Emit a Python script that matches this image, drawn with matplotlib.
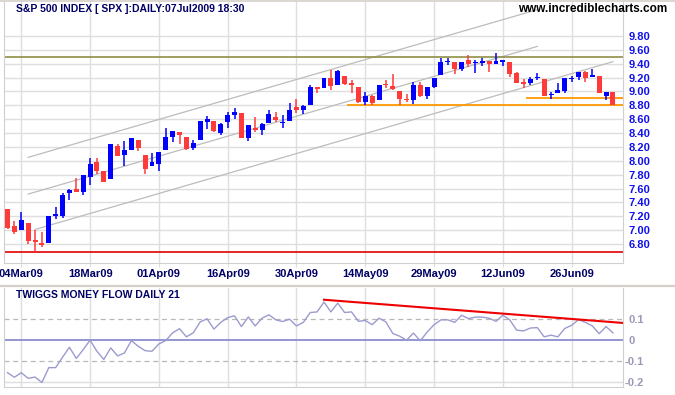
import matplotlib
matplotlib.use('Agg')
import matplotlib.pyplot as plt
import pandas as pd

plt.rcParams['font.family'] = ['Liberation Sans', 'DejaVu Sans']

HOLIDAYS = ['2009-04-10', '2009-05-25', '2009-07-03']

# S&P 500 / 100, daily candles 02Mar09 .. 07Jul09
OPEN = [7.30, 7.06, 7.00, 7.10, 6.85, 6.82, 6.81, 7.20, 7.21, 7.54,
        7.60, 7.55, 7.77, 7.99, 7.85, 7.74, 8.21, 8.08, 8.16, 8.30,
        8.09, 7.93, 7.95, 8.16, 8.35, 8.41, 8.35, 8.18, 8.30, 8.56,
        8.57, 8.40, 8.56, 8.66, 8.69, 8.33, 8.48, 8.45, 8.54, 8.63,
        8.55, 8.57, 8.77, 8.73, 8.80, 9.06, 9.05, 9.20, 9.09, 9.23,
        9.12, 9.06, 8.85, 8.93, 8.88, 9.11, 9.08, 9.00, 8.89, 8.88,
        9.10, 8.93, 9.07, 9.24, 9.43, 9.43, 9.33, 9.46, 9.41, 9.42,
        9.44, 9.40, 9.43, 9.42, 9.27, 9.13, 9.12, 9.20, 9.18, 8.95,
        8.98, 9.00, 9.18, 9.21, 9.28, 9.22, 9.22, 8.94, 8.99]
HIGH = [7.30, 7.13, 7.26, 7.10, 7.00, 6.97, 7.20, 7.33, 7.53, 7.59,
        7.75, 7.79, 8.04, 8.04, 7.86, 8.24, 8.24, 8.28, 8.33, 8.30,
        8.09, 8.11, 8.13, 8.47, 8.43, 8.41, 8.35, 8.30, 8.57, 8.64,
        8.57, 8.55, 8.71, 8.76, 8.69, 8.51, 8.63, 8.54, 8.73, 8.70,
        8.66, 8.83, 8.89, 8.81, 9.09, 9.07, 9.20, 9.31, 9.31, 9.23,
        9.16, 9.06, 8.99, 8.95, 9.10, 9.17, 9.25, 9.00, 8.96, 9.14,
        9.14, 9.07, 9.20, 9.48, 9.48, 9.43, 9.42, 9.52, 9.46, 9.48,
        9.44, 9.56, 9.46, 9.42, 9.28, 9.18, 9.21, 9.27, 9.18, 8.99,
        9.12, 9.20, 9.22, 9.28, 9.30, 9.32, 9.22, 8.99, 8.99]
LOW = [7.01, 6.95, 7.00, 6.80, 6.69, 6.76, 6.81, 7.16, 7.17, 7.44,
       7.55, 7.50, 7.65, 7.81, 7.69, 7.74, 8.07, 7.92, 8.16, 8.14,
       7.81, 7.92, 7.85, 8.16, 8.27, 8.24, 8.16, 8.15, 8.30, 8.46,
       8.42, 8.37, 8.48, 8.61, 8.33, 8.28, 8.42, 8.37, 8.54, 8.56,
       8.48, 8.57, 8.69, 8.67, 8.80, 8.98, 9.05, 9.02, 9.09, 9.09,
       8.98, 8.83, 8.80, 8.80, 8.88, 9.05, 9.02, 8.81, 8.85, 8.82,
       8.92, 8.89, 9.05, 9.24, 9.38, 9.25, 9.29, 9.36, 9.27, 9.37,
       9.28, 9.40, 9.37, 9.21, 9.12, 9.05, 9.09, 9.16, 8.93, 8.89,
       8.98, 8.98, 9.14, 9.17, 9.13, 9.22, 8.98, 8.88, 8.80]
CLOSE = [7.03, 6.97, 7.14, 6.84, 6.84, 6.79, 7.20, 7.23, 7.51, 7.58,
         7.55, 7.79, 7.95, 7.85, 7.69, 8.24, 8.07, 8.15, 8.33, 8.18,
         7.88, 7.99, 8.12, 8.35, 8.43, 8.37, 8.17, 8.25, 8.57, 8.60,
         8.43, 8.53, 8.66, 8.70, 8.33, 8.51, 8.45, 8.53, 8.67, 8.59,
         8.56, 8.74, 8.73, 8.79, 9.07, 9.04, 9.20, 9.08, 9.29, 9.11,
         9.10, 8.85, 8.93, 8.83, 9.10, 9.10, 9.04, 8.89, 8.88, 9.10,
         8.93, 9.07, 9.19, 9.43, 9.44, 9.32, 9.42, 9.40, 9.42, 9.43,
         9.40, 9.44, 9.46, 9.25, 9.12, 9.12, 9.18, 9.21, 8.93, 8.96,
         9.02, 9.20, 9.19, 9.28, 9.19, 9.23, 8.98, 8.99, 8.81]

TMF = [-0.155, -0.177, -0.155, -0.182, -0.176, -0.202, -0.131, -0.131, -0.081, -0.034,
       -0.087, -0.045, 0.000, -0.053, -0.092, -0.037, -0.075, -0.061, -0.002, -0.029,
       -0.050, -0.053, -0.018, -0.002, 0.035, 0.055, 0.016, 0.035, 0.087, 0.102,
       0.053, 0.085, 0.108, 0.116, 0.065, 0.111, 0.068, 0.105, 0.121, 0.097,
       0.089, 0.100, 0.068, 0.085, 0.132, 0.135, 0.182, 0.135, 0.177, 0.132,
       0.135, 0.090, 0.094, 0.074, 0.105, 0.087, 0.032, 0.019, 0.000, 0.034,
       -0.003, 0.039, 0.074, 0.097, 0.097, 0.085, 0.119, 0.103, 0.110, 0.110,
       0.105, 0.090, 0.119, 0.097, 0.048, 0.044, 0.058, 0.060, 0.016, 0.024,
       0.016, 0.056, 0.071, 0.098, 0.085, 0.068, 0.031, 0.065, 0.035]

TICK_DATES = ['2009-03-04', '2009-03-18', '2009-04-01', '2009-04-16', '2009-04-30',
              '2009-05-14', '2009-05-29', '2009-06-12', '2009-06-26']
TICK_LABELS = ['04Mar09', '18Mar09', '01Apr09', '16Apr09', '30Apr09',
               '14May09', '29May09', '12Jun09', '26Jun09']
PRICE_TICKS = [6.8, 7.0, 7.2, 7.4, 7.6, 7.8, 8.0, 8.2, 8.4, 8.6, 8.8, 9.0, 9.2, 9.4, 9.6, 9.8]
TMF_TICKS = [0.1, 0.0, -0.1, -0.2]
TMF_TICK_LABELS = ['0.1', '0', '-0.1', '-0.2']

# trend channel
CHANNEL_START = ['2009-03-05', '2009-03-05', '2009-03-06']
CHANNEL_END = ['2009-06-19', '2009-06-19', '2009-07-07']
CHANNEL_Y0 = [8.05, 7.52, 7.01]
CHANNEL_Y1 = [10.18, 9.65, 9.43]

RESISTANCE = 9.50
MARCH_LOW = 6.69
SUPPORT = [8.80, 8.90]
SUPPORT_START = ['2009-05-12', '2009-06-18']

TMF_TREND_START = ('2009-05-06', 0.193)
TMF_TREND_END = ('2009-07-07', 0.086)

W, H = 675, 395
BLUE = '#0000ff'
RED = '#ff3a3a'
NAVY = '#000066'
GRID = '#dedede'

days = pd.bdate_range('2009-03-02', '2009-07-07').drop(pd.to_datetime(HOLIDAYS))
pos = {d.strftime('%Y-%m-%d'): k for k, d in enumerate(days)}
x0, x1 = -0.51, 89.46


def candles(ax):
    for k in range(len(OPEN)):
        o, h, l, c = OPEN[k], HIGH[k], LOW[k], CLOSE[k]
        col = BLUE if c >= o else RED
        ax.vlines(k, l, h, color=col, lw=1.1, zorder=3)
        bottom = min(o, c)
        height = abs(c - o)
        if height < 0.02:
            bottom = (o + c) / 2 - 0.01
            height = 0.02
        ax.bar(k, height, bottom=bottom, width=0.72, color=col, lw=0, zorder=4)


fig = plt.figure(figsize=(W / 100, H / 100), dpi=100)
ax = fig.add_axes([4 / W, 1 - 263 / H, 619 / W, 262 / H])
ax2 = fig.add_axes([4 / W, 1 - 386.5 / H, 619 / W, 98.5 / H])

ticks = [pos[d] for d in TICK_DATES]

# price panel
candles(ax)
for s, e, y0, y1 in zip(CHANNEL_START, CHANNEL_END, CHANNEL_Y0, CHANNEL_Y1):
    ax.plot([pos[s], pos[e]], [y0, y1], color='#bcbcbc', lw=0.9, zorder=2)
ax.axhline(RESISTANCE, color='#8f8f45', lw=1.2, zorder=2)
ax.axhline(MARCH_LOW, color='#e00000', lw=1.2, zorder=2)
for lev, s in zip(SUPPORT, SUPPORT_START):
    ax.plot([pos[s] - 0.5, x1], [lev, lev], color='#ff9900', lw=1.3, zorder=2)

ax.set_xlim(x0, x1)
ax.set_ylim(6.526, 10.305)
ax.set_xticks(ticks)
ax.set_xticklabels(TICK_LABELS)
ax.set_yticks(PRICE_TICKS)
ax.set_yticklabels(['%.2f' % v for v in PRICE_TICKS])
ax.yaxis.tick_right()
ax.grid(True, color=GRID, lw=1.0, zorder=0)
ax.tick_params(axis='y', length=0, pad=3.8, labelsize=8, labelcolor='#1010ee')
ax.tick_params(axis='x', length=3, color=GRID, pad=1.5, labelsize=8, labelcolor=NAVY)
for lab in ax.get_xticklabels() + ax.get_yticklabels():
    lab.set_fontweight('bold')
for sp in ax.spines.values():
    sp.set_color('#d0d0d0')
ax.spines['top'].set_visible(False)

# money flow panel
ax2.plot(range(len(TMF)), TMF, color='#9b9bcf', lw=1.0, zorder=3)
ax2.axhline(0, color='#8c8cd0', lw=1.3, zorder=2)
for lev in (0.1, -0.1):
    ax2.axhline(lev, color='#b8b8b8', lw=0.9, ls=(0, (4, 3)), zorder=1)
ax2.axhline(-0.2, color=GRID, lw=1.0, zorder=1)
slope = (TMF_TREND_END[1] - TMF_TREND_START[1]) / (pos[TMF_TREND_END[0]] - pos[TMF_TREND_START[0]])
xs = pos[TMF_TREND_START[0]]
ax2.plot([xs, x1], [TMF_TREND_START[1], TMF_TREND_START[1] + slope * (x1 - xs)],
         color='#ee0000', lw=1.5, zorder=4)
for t in ticks:
    ax2.axvline(t, color=GRID, lw=1.0, zorder=0)
ax2.set_xlim(x0, x1)
ax2.set_ylim(-0.221, 0.249)
ax2.set_xticks([])
ax2.set_yticks(TMF_TICKS)
ax2.set_yticklabels(TMF_TICK_LABELS)
ax2.yaxis.tick_right()
ax2.tick_params(axis='y', length=0, pad=3.8, labelsize=8, labelcolor='#9a9ab8')
for tk, v in zip(ax2.yaxis.get_major_ticks(), TMF_TICKS):
    if v < 0:
        tk.set_pad(1.0)
for lab in ax2.get_yticklabels():
    lab.set_fontweight('bold')
for sp in ax2.spines.values():
    sp.set_color('#d0d0d0')
ax2.spines['top'].set_visible(False)

# frame lines and texts
fig.add_artist(plt.Line2D([0, 1], [1 - 0.5 / H, 1 - 0.5 / H], color='#d4d0c8', lw=1.2))
fig.add_artist(plt.Line2D([0, 1], [1 - 286 / H, 1 - 286 / H], color='#d4d0c8', lw=1.6))
fig.text(16 / W, 1 - 8.5 / H, 'S&P 500 INDEX [ SPX ]:DAILY:07Jul2009 18:30',
         fontsize=7.5, fontweight='bold', color=NAVY, va='center')
fig.text(667 / W, 1 - 8.5 / H, 'www.incrediblecharts.com',
         fontsize=8.5, fontweight='bold', color='black', va='center', ha='right')
fig.text(16 / W, 1 - 295.5 / H, 'TWIGGS MONEY FLOW DAILY 21',
         fontsize=7.5, fontweight='bold', color=NAVY, va='center')

fig.savefig('out.png', dpi=100)
